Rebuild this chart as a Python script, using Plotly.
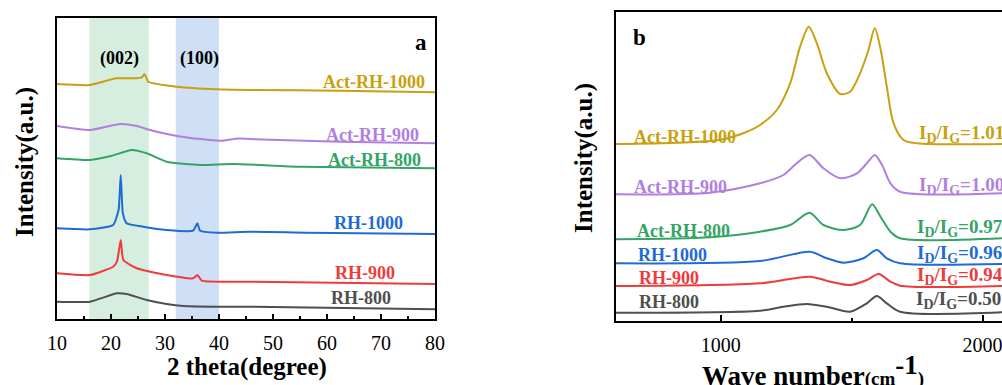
import plotly.graph_objects as go

W, H = 1002, 385
def fx(p): return p / W
def fy(p): return 1 - p / H

# ---------------- XRD data (panel a) ----------------
xrd_names = ["Act-RH-1000", "Act-RH-900", "Act-RH-800", "RH-1000", "RH-900", "RH-800"]
xrd_x = {
    "Act-RH-1000": [10, 16.1, 21.0, 24.1, 25.7, 26.2, 26.9, 32.2, 39.6, 45.7, 62.4, 80],
    "Act-RH-900": [10, 16.1, 21.7, 24.8, 27.2, 32.2, 38.3, 40.7, 43.5, 45.7, 62.4, 80],
    "Act-RH-800": [10, 16.1, 20.0, 23.8, 26.6, 30.3, 36.5, 42.6, 55, 80],
    "RH-1000": [10, 16.1, 20.4, 21.4, 21.8, 22.2, 22.9, 26.0, 30.3, 35.2, 36.0, 36.5, 39.6, 45.7, 56.2, 80],
    "RH-900": [10, 16.1, 20.4, 21.1, 21.8, 22.3, 24.8, 30.3, 35.2, 36.0, 36.8, 45.7, 80],
    "RH-800": [10, 16.1, 21.1, 22.9, 26.6, 30.3, 33.4, 39.6, 45.7, 80],
}
xrd_y = {
    "Act-RH-1000": [235, 234, 240.7, 240.7, 241.7, 245, 237.3, 232.3, 229.7, 229, 228.3, 226.7],
    "Act-RH-900": [193, 189, 195, 193, 189, 183, 179, 178.3, 180.5, 180, 177.3, 175.7],
    "Act-RH-800": [160.7, 159, 163, 169, 165.7, 157.3, 154, 155, 152.3, 150.7],
    "RH-1000": [90.7, 89.7, 94, 109, 144, 105.7, 95.7, 92.3, 89, 88.3, 95.7, 88.3, 86.3, 87.3, 86.3, 85],
    "RH-900": [45.7, 44, 52.3, 57.3, 79, 59, 50.7, 44, 40.7, 44, 38.3, 37.3, 35],
    "RH-800": [17.3, 17.3, 25.7, 25, 19, 15, 13, 12.3, 12.3, 9.7],
}

# ---------------- Raman data (panel b) ----------------
raman_x = {
    "Act-RH-1000": [600, 832, 997, 1086, 1150, 1214, 1265, 1303, 1336, 1367, 1405, 1456, 1494, 1532, 1564, 1588, 1611, 1634, 1660, 1698, 1749, 2075],
    "Act-RH-900": [600, 959, 1150, 1239, 1290, 1339, 1392, 1456, 1520, 1558, 1588, 1616, 1648, 1685, 2075],
    "Act-RH-800": [600, 959, 1150, 1265, 1339, 1392, 1469, 1532, 1578, 1610, 1648, 1685, 2075],
    "RH-1000": [600, 1150, 1341, 1405, 1469, 1545, 1596, 1634, 1685, 2075],
    "RH-900": [600, 1150, 1341, 1418, 1494, 1558, 1603, 1648, 1685, 2075],
    "RH-800": [600, 1150, 1239, 1328, 1405, 1494, 1558, 1596, 1634, 1685, 2075],
}
raman_y = {
    "Act-RH-1000": [177, 178.3, 181, 187.7, 196, 211, 237.7, 274.3, 294.3, 277.7, 247.7, 227, 229.3, 247.7, 271, 292.7, 271, 234.3, 197.7, 181, 177.7, 177],
    "Act-RH-900": [126.7, 128.3, 137.7, 146, 157.7, 166, 152.7, 142.7, 147.7, 157.7, 166, 156, 137.7, 129.3, 127.7],
    "Act-RH-800": [81.7, 83.7, 89.3, 96, 108.3, 96, 91, 96, 116.7, 104.3, 89.3, 82.7, 82.7],
    "RH-1000": [57.7, 60, 69.3, 62.7, 58.3, 62.7, 71, 62.7, 57.7, 57],
    "RH-900": [35, 37.7, 44.3, 39.3, 36, 41, 47, 39.3, 35.3, 35],
    "RH-800": [8.3, 10.3, 14.3, 17, 14.3, 9.3, 17.7, 25, 17.7, 9.3, 8.7],
}
ratio_labels = ["1.01", "1.00", "0.97", "0.96", "0.94", "0.50"]

colors = {
    "Act-RH-1000": "#C9A010",
    "Act-RH-900": "#B07FE0",
    "Act-RH-800": "#34A466",
    "RH-1000": "#1F6BD6",
    "RH-900": "#EE3B3B",
    "RH-800": "#4F4F4F",
}

SERIF = "Liberation Serif"
fig = go.Figure()

for n in xrd_names:
    fig.add_trace(go.Scatter(x=xrd_x[n], y=xrd_y[n], mode="lines",
                             line=dict(color=colors[n], width=2, shape="spline", smoothing=0.5),
                             xaxis="x", yaxis="y", showlegend=False))
for n in xrd_names:
    fig.add_trace(go.Scatter(x=raman_x[n], y=raman_y[n], mode="lines",
                             line=dict(color=colors[n], width=2, shape="spline", smoothing=0.8),
                             xaxis="x2", yaxis="y2", showlegend=False))

# bands
fig.add_shape(type="rect", xref="x", yref="y domain", x0=16, x1=27, y0=0, y1=1,
              fillcolor="#D6EEDF", line_width=0, layer="below")
fig.add_shape(type="rect", xref="x", yref="y domain", x0=32, x1=40, y0=0, y1=1,
              fillcolor="#CFDFF6", line_width=0, layer="below")

axis_common = dict(showline=True, linecolor="black", linewidth=2, showgrid=False,
                   zeroline=False, automargin=False)
tickfont = dict(family=SERIF, size=20, color="black")

fig.update_layout(
    width=W, height=H, margin=dict(l=0, r=0, t=0, b=0, autoexpand=False),
    paper_bgcolor="white", plot_bgcolor="rgba(0,0,0,0)",
    xaxis=dict(domain=[fx(57), fx(435)], range=[10, 80], anchor="y", mirror=True,
               tickvals=[10, 20, 30, 40, 50, 60, 70, 80], ticks="inside", ticklen=5, tickwidth=1.5,
               tickcolor="black", minor=dict(tickvals=[15, 25, 35, 45, 55, 65, 75], ticks="inside",
                                             ticklen=3, tickwidth=1.5, tickcolor="black"),
               tickfont=tickfont, ticklabelstandoff=5, ticklabeloverflow="allow", **axis_common),
    yaxis=dict(domain=[fy(319), fy(18)], range=[0, 301], anchor="x", mirror=True,
               showticklabels=False, ticks="", **axis_common),
    xaxis2=dict(domain=[fx(616), 1.0], range=[600, 2074], anchor="y2", mirror=True,
                tickvals=[1000, 2000], ticks="inside", ticklen=6, tickwidth=1.5, tickcolor="black",
                minor=dict(tickvals=[1500], ticks="inside", ticklen=3, tickwidth=1.5, tickcolor="black"),
                tickfont=tickfont, ticklabelstandoff=5, ticklabeloverflow="allow", **axis_common),
    yaxis2=dict(domain=[fy(321), fy(12.3)], range=[0, 308.7], anchor="x2", mirror=False,
                showticklabels=False, ticks="", **axis_common),
)

ann = []
def A(text, x, y, size, color="black", xanchor="center", yanchor="middle", angle=0):
    ann.append(dict(text=text, x=fx(x), y=fy(y), xref="paper", yref="paper", showarrow=False,
                    xanchor=xanchor, yanchor=yanchor, textangle=angle,
                    font=dict(family=SERIF, size=size, color=color)))

# panel a texts
A("<b>a</b>", 421, 42, 23)
A("<b>(002)</b>", 119, 58, 18)
A("<b>(100)</b>", 199, 58, 18)
a_label_pos = {"Act-RH-1000": (427, 82), "Act-RH-900": (421, 135), "Act-RH-800": (423, 160),
               "RH-1000": (405, 223), "RH-900": (397, 273), "RH-800": (393, 298)}
for n in xrd_names:
    x, y = a_label_pos[n]
    A(f"<b>{n}</b>", x, y, 18, colors[n], xanchor="right")
A("<b>2 theta(degree)</b>", 247, 367, 25)
A("<b>Intensity(a.u.)</b>", 25, 162, 25, angle=-90)

# panel b texts
A("<b>b</b>", 639, 37, 23)
b_label_pos = {"Act-RH-1000": (632, 137), "Act-RH-900": (632, 187), "Act-RH-800": (635, 231),
               "RH-1000": (636, 255), "RH-900": (637, 278), "RH-800": (637, 302)}
ratio_y = [134, 186, 228, 254, 276, 300]
ratio_x = [917, 917, 915, 915, 915, 914]
for n, r, rx, ry in zip(xrd_names, ratio_labels, ratio_x, ratio_y):
    x, y = b_label_pos[n]
    A(f"<b>{n}</b>", x, y, 18, colors[n], xanchor="left")
    A(f"<b>I<sub><span style='font-size:14px'>D</span></sub>/I<sub><span style='font-size:14px'>G</span></sub>={r}</b>",
      rx, ry, 19, colors[n], xanchor="left")
A("<b>Wave number<span style='font-size:19px'>(cm</span><sup><span style='font-size:27px'>-1</span></sup>"
  "<span style='font-size:19px'>)</span></b>", 813, 370, 27)
A("<b>Intensity(a.u.)</b>", 584, 158, 25, angle=-90)

fig.update_layout(annotations=ann)
fig.write_html("out.html")
